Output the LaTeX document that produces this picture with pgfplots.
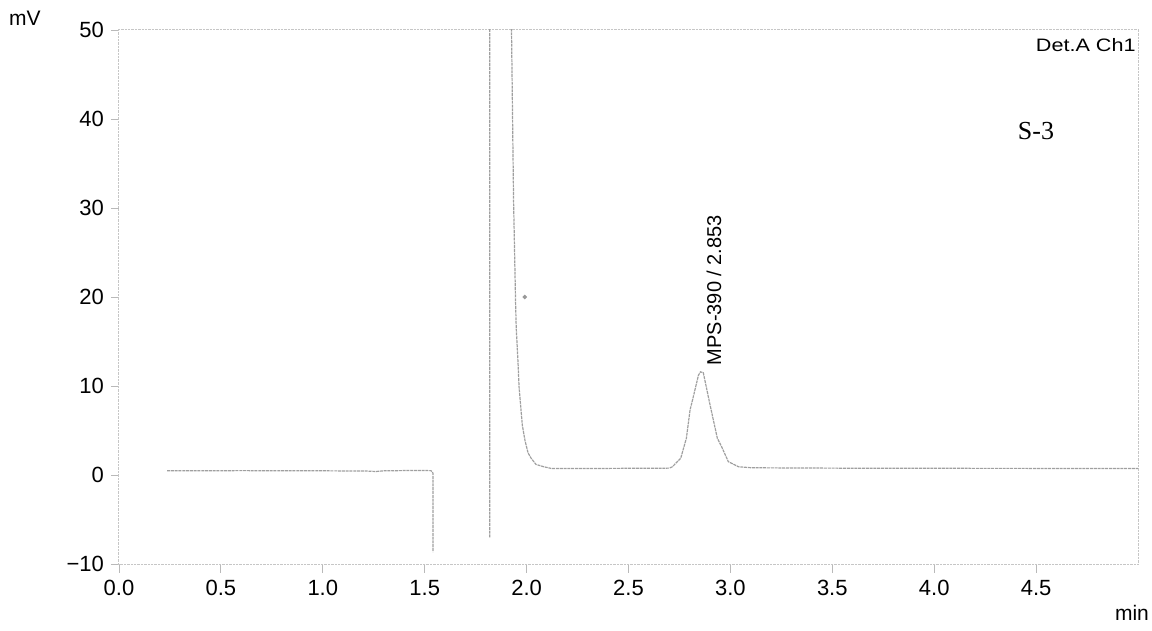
\documentclass[border=0pt]{standalone}
\usepackage{fontspec}
\setmainfont{Liberation Sans}
\newfontfamily\serifrm{Liberation Serif}
\usepackage{pgfplots}
\pgfplotsset{compat=1.18}
\begin{document}
\begin{tikzpicture}
\path[use as bounding box] (-59.5pt,-33pt) rectangle (516.5pt,282.5pt);
\begin{axis}[
  at={(0,0)}, anchor=south west,
  scale only axis, width=509.5pt, height=267.5pt,
  xmin=0, xmax=5, ymin=-10.1, ymax=50,
  xtick={0,0.5,...,4.5},
  xticklabels={0.0,0.5,1.0,1.5,2.0,2.5,3.0,3.5,4.0,4.5},
  ytick={-10,0,10,20,30,40,50},
  yticklabels={−10,0,10,20,30,40,50},
  xtick pos=left, ytick pos=left,
  tick align=outside,
  major tick length=4pt,
  tick style={gray!55, line width=0.4pt},
  axis line style={gray!45, line width=0.5pt, dash pattern=on 1.2pt off 0.5pt},
  ticklabel style={font=\fontsize{11}{13}\selectfont, black},
  /pgf/number format/assume math mode=true,
  unbounded coords=jump,
  clip=true,
]
\addplot[gray!75, line width=0.6pt, dash pattern=on 1.5pt off 0.4pt] coordinates {
  (0.236,0.48) (0.60,0.50) (1.00,0.48) (1.22,0.45) (1.26,0.40) (1.30,0.48) (1.45,0.52) (1.531,0.50)
  (1.541,0.2) (1.541,-8.66)
  (1.60,nan)
  (1.819,-7.0) (1.819,62) (1.924,62)
  (1.926,50) (1.936,30.9) (1.946,19.3) (1.949,16.6) (1.958,12.6) (1.963,9.9)
  (1.979,5.6) (1.992,3.9) (2.007,2.5) (2.022,1.9) (2.046,1.2) (2.085,0.93)
  (2.12,0.75) (2.40,0.75) (2.70,0.78)
  (2.715,0.93) (2.756,1.88) (2.784,4.13) (2.802,7.31) (2.818,8.8) (2.843,11.2)
  (2.853,11.6) (2.867,11.5) (2.90,7.9) (2.936,4.13) (2.957,3.18) (2.99,1.5)
  (3.04,0.93) (3.106,0.82) (3.50,0.78) (4.00,0.76) (4.50,0.75) (5.00,0.75)
};
\addplot[only marks, mark=*, mark size=0.9pt, gray!80] coordinates {(1.991,20.0)};
\node[rotate=90, anchor=west, inner sep=0pt, font=\fontsize{10}{12}\selectfont] at (axis cs:2.92,12.3) {MPS-390 / 2.853};
\end{axis}
\node[font=\fontsize{10.5}{12}\selectfont] at (-47pt,273.5pt) {mV};
\node[font=\fontsize{10.5}{12}\selectfont] at (506.5pt,-24pt) {min};
\node[anchor=east, inner sep=0pt, font=\fontsize{9}{11}\selectfont] at (508.5pt,260pt) {\scalebox{1.2}[1]{Det.A Ch1}};
\node[font=\serifrm\fontsize{13}{15}\selectfont] at (458.5pt,217pt) {S-3};
\end{tikzpicture}
\end{document}
